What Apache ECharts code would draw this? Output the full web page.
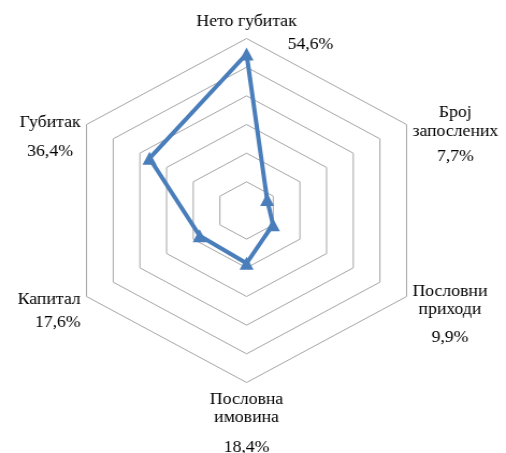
<!DOCTYPE html>
<html><head><meta charset="utf-8">
<script src="https://cdn.jsdelivr.net/npm/echarts@6/dist/echarts.min.js"></script>
<style>
html,body{margin:0;padding:0;background:#fff;overflow:hidden}
#wrap{width:506px;height:453px;overflow:hidden;position:relative}
#main{width:471px;height:453px;transform:scaleX(1.0743);transform-origin:0 0}
</style>
</head><body><div id="wrap"><div id="main"></div></div>
<script>
// Data (radar indicators in ECharts order: top, then counter-clockwise)
const categories = ['Нето губитак', 'Губитак', 'Капитал', 'Пословна имовина', 'Пословни приходи', 'Број запослених'];
const values = [54.6, 36.4, 17.6, 18.4, 9.9, 7.7];
const axisMax = 60;
const ringCount = 6;

// Label layout (line breaks, line heights, alignment) per indicator
const labelLayout = [
  {spacer: 0,    lines: [{t: 'name', lh: 30, align: 'center'}, {t: 'value', lh: 16, align: 'right', padL: 119}]},
  {spacer: 20.5, lines: [{t: 'name', lh: 20, align: 'right'}, {t: 'value', lh: 38, align: 'center'}]},
  {spacer: 47.5, lines: [{t: 'name', lh: 20, align: 'right'}, {t: 'value', lh: 26, align: 'right'}]},
  {spacer: 23,   lines: [{t: 'w0', lh: 18, align: 'center'}, {t: 'w1', lh: 18, align: 'center'}, {t: 'value', lh: 42, align: 'center'}]},
  {spacer: 61.5, lines: [{t: 'w0', lh: 18, align: 'center'}, {t: 'w1', lh: 18, align: 'center'}, {t: 'value', lh: 38, align: 'center'}]},
  {spacer: 12.5, lines: [{t: 'w0', lh: 19, align: 'center'}, {t: 'w1', lh: 19, align: 'center'}, {t: 'value', lh: 31, align: 'center'}]}
];

const fmtPct = v => v.toFixed(1).replace('.', ',') + '%';
const FONT = 'Liberation Serif';
const FS = 16.5;

const rich = {};
labelLayout.forEach((L, i) => {
  rich['s' + i] = {fontFamily: FONT, fontSize: FS, lineHeight: L.spacer || 0.01};
  L.lines.forEach((ln, j) => {
    const st = {fontFamily: FONT, fontSize: FS, color: '#000', lineHeight: ln.lh, align: ln.align};
    if (ln.padL) st.padding = [0, 0, 0, ln.padL];
    rich['l' + i + '_' + j] = st;
  });
});

function labelText(name) {
  const i = categories.indexOf(name);
  const L = labelLayout[i];
  const words = name.split(' ');
  const parts = [];
  if (L.spacer) parts.push('{s' + i + '| }');
  L.lines.forEach((ln, j) => {
    let txt;
    if (ln.t === 'name') txt = name;
    else if (ln.t === 'value') txt = fmtPct(values[i]);
    else txt = words[+ln.t.slice(1)];
    parts.push('{l' + i + '_' + j + '|' + txt + '}');
  });
  return parts.join('\n');
}

const chart = echarts.init(document.getElementById('main'), null, {renderer: 'canvas'});
chart.setOption({
  backgroundColor: '#fff',
  animation: false,
  textStyle: {fontFamily: FONT},
  radar: {
    center: [229.5, 210.5],
    radius: 172,
    startAngle: 90,
    shape: 'polygon',
    splitNumber: ringCount,
    nameGap: -14.5,
    indicator: categories.map(c => ({name: c, min: 0, max: axisMax})),
    axisName: {
      show: true,
      color: '#000',
      fontFamily: FONT,
      fontSize: FS,
      padding: [0, 18, 0, 18],
      formatter: (v) => labelText(v),
      rich: rich
    },
    axisLine: {show: false},
    axisTick: {show: false},
    axisLabel: {show: false},
    splitArea: {show: false},
    splitLine: {show: true, lineStyle: {color: '#a6a6a6', width: 1}}
  },
  series: [{
    type: 'radar',
    symbol: 'triangle',
    symbolSize: 13,
    lineStyle: {color: '#4a7ebb', width: 4},
    itemStyle: {color: '#4a7ebb'},
    data: [{value: values}]
  }]
});
</script>
</body></html>
